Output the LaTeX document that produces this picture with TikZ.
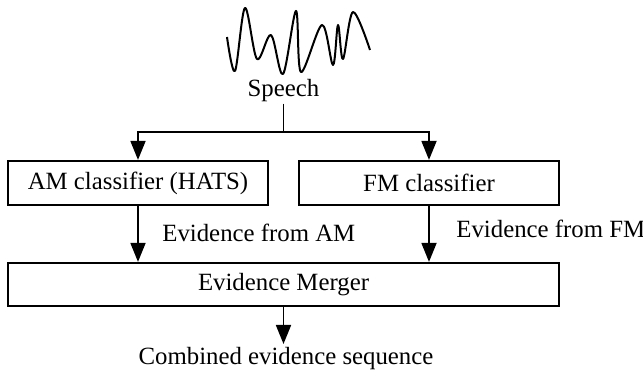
\documentclass[tikz,border=0pt]{standalone}
\usepackage{fontspec}
\setmainfont{Liberation Serif}
\usetikzlibrary{arrows.meta}
\tikzset{
  box/.style={draw, line width=1.1pt, minimum width=130pt, minimum height=22pt, inner sep=0pt},
  arr/.style={line width=0.9pt, -{Triangle[width=7.5pt,length=9.5pt]}},
  lbl/.style={inner sep=0pt}
}
\begin{document}
\begin{tikzpicture}[x=0.5pt, y=-0.5pt, font=\fontsize{12.4}{14.8}\selectfont]
      \useasboundingbox (0,0) rectangle (643,373);
      \draw[line width=1pt, line join=round]
        plot[smooth, tension=0.55] coordinates {(227,37) (235,71) (245,8) (257,59) (271,35)
          (283,74) (296,11) (301,72) (322,25) (333,65) (338,25) (343,59) (353,12) (370,50)};
      \node[anchor=base, inner sep=0.5pt] (speech) at (283.5,97) {Speech};
      \coordinate (split) at (283.5,132);
      \node[box] (am) at (138,183) {AM classifier (HATS)};
      \node[box] (fm) at (429,183) {FM classifier};
      \node[box, minimum width=275.5pt, minimum height=21.5pt] (merger) at (283.5,284.5) {Evidence Merger};
      \node[lbl, anchor=base west] (evam) at (162,242) {Evidence from AM};
      \node[lbl, anchor=base west] (evfm) at (456,238) {Evidence from FM};
      \node[anchor=north, inner sep=1.5pt] (out) at (286,344) {Combined evidence sequence};
      \begin{scope}[line width=0.9pt]
        \draw (speech.south) -- (split);
        \draw[arr] (split) -| (am.north);
        \draw[arr] (split) -| (fm.north);
        \draw[arr] (am.south) -- (am.south |- merger.north);
        \draw[arr] (fm.south) -- (fm.south |- merger.north);
        \draw[arr] (merger.south) -- (merger.south |- out.north);
      \end{scope}
    \end{tikzpicture}
\end{document}
